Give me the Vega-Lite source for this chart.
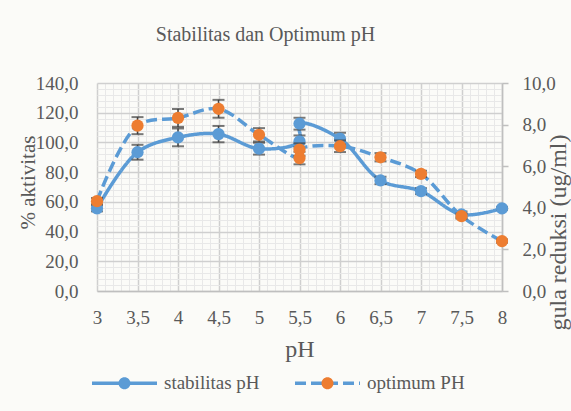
{
  "$schema": "https://vega.github.io/schema/vega-lite/v6.json",
  "width": 405,
  "height": 208,
  "autosize": {"type": "none"},
  "padding": {"left": 97, "top": 83, "right": 69, "bottom": 120},
  "background": "#fbfbf8",
  "title": {
    "text": "Stabilitas dan Optimum pH",
    "anchor": "middle",
    "dx": -34,
    "baseline": "alphabetic",
    "offset": 13
  },
  "datasets": {
    "stab": [
      {"ph": 3, "ord": 1, "series": "stabilitas pH", "value": 55.6, "err": 2},
      {"ph": 3.5, "ord": 2, "series": "stabilitas pH", "value": 93.4, "err": 5},
      {"ph": 4, "ord": 3, "series": "stabilitas pH", "value": 103.4, "err": 6},
      {"ph": 4.5, "ord": 4, "series": "stabilitas pH", "value": 105.6, "err": 5.5},
      {"ph": 5, "ord": 5, "series": "stabilitas pH", "value": 95.8, "err": 4},
      {"ph": 5.5, "ord": 6, "series": "stabilitas pH", "value": 100.7, "err": 4},
      {"ph": 5.5, "ord": 7, "series": "stabilitas pH", "value": 112.6, "err": 4},
      {"ph": 6, "ord": 8, "series": "stabilitas pH", "value": 102.5, "err": 4},
      {"ph": 6.5, "ord": 9, "series": "stabilitas pH", "value": 74.4, "err": 2.5},
      {"ph": 7, "ord": 10, "series": "stabilitas pH", "value": 67.2, "err": 2},
      {"ph": 7.5, "ord": 11, "series": "stabilitas pH", "value": 51.5, "err": 2},
      {"ph": 8, "ord": 12, "series": "stabilitas pH", "value": 55.6, "err": 1}
    ],
    "opt": [
      {"ph": 3, "ord": 1, "series": "optimum PH", "value": 4.32, "err": 0.15},
      {"ph": 3.5, "ord": 2, "series": "optimum PH", "value": 7.95, "err": 0.41},
      {"ph": 4, "ord": 3, "series": "optimum PH", "value": 8.32, "err": 0.43},
      {"ph": 4.5, "ord": 4, "series": "optimum PH", "value": 8.76, "err": 0.43},
      {"ph": 5, "ord": 5, "series": "optimum PH", "value": 7.51, "err": 0.32},
      {"ph": 5.5, "ord": 6, "series": "optimum PH", "value": 6.39, "err": 0.3},
      {"ph": 5.5, "ord": 7, "series": "optimum PH", "value": 6.8, "err": 0.3},
      {"ph": 6, "ord": 8, "series": "optimum PH", "value": 6.96, "err": 0.28},
      {"ph": 6.5, "ord": 9, "series": "optimum PH", "value": 6.43, "err": 0.2},
      {"ph": 7, "ord": 10, "series": "optimum PH", "value": 5.63, "err": 0.15},
      {"ph": 7.5, "ord": 11, "series": "optimum PH", "value": 3.6, "err": 0.12},
      {"ph": 8, "ord": 12, "series": "optimum PH", "value": 2.4, "err": 0.08}
    ]
  },
  "encoding": {
    "x": {
      "field": "ph",
      "type": "quantitative",
      "scale": {"domain": [3, 8], "nice": false, "zero": false},
      "axis": {
        "title": "pH",
        "titleFontSize": 24,
        "titlePadding": 10,
        "values": [3,3.1,3.2,3.3,3.4,3.5,3.6,3.7,3.8,3.9,4,4.1,4.2,4.3,4.4,4.5,4.6,4.7,4.8,4.9,5,5.1,5.2,5.3,5.4,5.5,5.6,5.7,5.8,5.9,6,6.1,6.2,6.3,6.4,6.5,6.6,6.7,6.8,6.9,7,7.1,7.2,7.3,7.4,7.5,7.6,7.7,7.8,7.9,8],
        "labelExpr": "abs(datum.value*2 - round(datum.value*2)) < 0.001 ? replace(toString(datum.value), '.', ',') : ''",
        "labelFontSize": 19,
        "labelPadding": 17,
        "labelOverlap": false,
        "labelFlush": false,
        "ticks": false,
        "domain": true,
        "domainColor": "#bfbfbf",
        "domainWidth": 1.5,
        "grid": true,
        "gridColor": {"condition": {"test": "abs(datum.value*2 - round(datum.value*2)) < 0.001", "value": "#cfcfcf"}, "value": "#e8e8e8"},
        "gridWidth": {"condition": {"test": "abs(datum.value*2 - round(datum.value*2)) < 0.001", "value": 1.5}, "value": 1}
      }
    }
  },
  "layer": [
    {
      "data": {"name": "stab"},
      "encoding": {
        "y": {
          "field": "value",
          "type": "quantitative",
          "scale": {"domain": [0, 140], "nice": false},
          "axis": {
            "orient": "left",
            "title": "% aktivitas",
            "titleFontSize": 21,
            "titleAngle": 270,
            "titleX": -69,
            "titleY": 99,
            "titleAlign": "center",
            "titleBaseline": "middle",
            "values": [0,4,8,12,16,20,24,28,32,36,40,44,48,52,56,60,64,68,72,76,80,84,88,92,96,100,104,108,112,116,120,124,128,132,136,140],
            "labelExpr": "datum.value % 20 === 0 ? replace(format(datum.value, '.1f'), '.', ',') : ''",
            "labelFontSize": 19,
            "labelPadding": 19,
            "labelOverlap": false,
            "labelFlush": false,
            "ticks": false,
            "domain": false,
            "grid": true,
            "gridColor": {"condition": {"test": "datum.value % 20 === 0", "value": "#cfcfcf"}, "value": "#e8e8e8"},
            "gridWidth": {"condition": {"test": "datum.value % 20 === 0", "value": 1.5}, "value": 1}
          }
        }
      },
      "layer": [
        {
          "mark": {"type": "line", "color": "#5b9bd5", "strokeWidth": 3.5, "interpolate": "catmull-rom"},
          "encoding": {
            "order": {"field": "ord", "type": "quantitative"},
            "strokeDash": {
              "field": "series",
              "type": "nominal",
              "scale": {"domain": ["stabilitas pH", "optimum PH"], "range": [[1, 0], [11, 5]]},
              "legend": {
                "orient": "none",
                "legendX": -7,
                "legendY": 265.5,
                "direction": "horizontal",
                "title": null,
                "symbolType": "M-1,0H1",
                "symbolSize": 4225,
                "symbolStrokeWidth": 3.5,
                "symbolStrokeColor": "#5b9bd5",
                "symbolFillColor": "transparent",
                "labelFontSize": 19,
                "labelOpacity": 0,
                "labelOffset": 5,
                "columnPadding": 28
              }
            }
          }
        },
        {
          "mark": {"type": "errorbar", "color": "#404040", "thickness": 1.5, "ticks": {"size": 12, "thickness": 2}},
          "encoding": {"yError": {"field": "err"}}
        },
        {
          "mark": {"type": "circle", "size": 150, "opacity": 1},
          "encoding": {
            "color": {
              "field": "series",
              "type": "nominal",
              "sort": ["stabilitas pH", "optimum PH"],
              "scale": {"range": ["#5b9bd5", "#ed7d31"]},
              "legend": {
                "orient": "none",
                "legendX": -7,
                "legendY": 265.5,
                "direction": "horizontal",
                "title": null,
                "symbolType": "M-1,0H1M0.185,0A0.185,0.185 0 1,1 -0.185,0A0.185,0.185 0 1,1 0.185,0Z",
                "symbolSize": 4225,
                "symbolStrokeWidth": 3.5,
                "symbolStrokeColor": "transparent",
                "labelFontSize": 19,
                "labelColor": "#595959",
                "labelOffset": 5,
                "columnPadding": 28,
                "encode": {"symbols": {"update": {"shape": {"value": "M-1,0H1M0.185,0A0.185,0.185 0 1,1 -0.185,0A0.185,0.185 0 1,1 0.185,0Z"}, "size": {"value": 4225}, "stroke": {"value": "transparent"}, "opacity": {"value": 1}}}}
              }
            }
          }
        }
      ]
    },
    {
      "data": {"name": "opt"},
      "encoding": {
        "y": {
          "field": "value",
          "type": "quantitative",
          "scale": {"domain": [0, 10], "nice": false},
          "axis": {
            "orient": "right",
            "title": "gula reduksi (ug/ml)",
            "titleFontSize": 24,
            "titleAngle": 270,
            "titleX": 56,
            "titleY": 149,
            "titleAlign": "center",
            "titleBaseline": "middle",
            "values": [0, 2, 4, 6, 8, 10],
            "labelExpr": "replace(format(datum.value, '.1f'), '.', ',')",
            "labelFontSize": 19,
            "labelPadding": 14,
            "labelFlush": false,
            "labelOverlap": false,
            "ticks": true,
            "tickSize": 6,
            "tickColor": "#bfbfbf",
            "tickWidth": 1.5,
            "domain": true,
            "domainColor": "#bfbfbf",
            "domainWidth": 1.5,
            "grid": false
          }
        }
      },
      "layer": [
        {
          "mark": {"type": "line", "color": "#5b9bd5", "strokeWidth": 3.5, "interpolate": "catmull-rom"},
          "encoding": {
            "order": {"field": "ord", "type": "quantitative"},
            "strokeDash": {"field": "series", "type": "nominal"}
          }
        },
        {
          "mark": {"type": "errorbar", "color": "#404040", "thickness": 1.5, "ticks": {"size": 12, "thickness": 2}},
          "encoding": {"yError": {"field": "err"}}
        },
        {
          "mark": {"type": "circle", "size": 150, "opacity": 1},
          "encoding": {
            "color": {"field": "series", "type": "nominal", "sort": ["stabilitas pH", "optimum PH"]}
          }
        }
      ]
    }
  ],
  "resolve": {"scale": {"y": "independent"}},
  "config": {
    "font": "Liberation Serif",
    "view": {"stroke": null},
    "title": {"fontSize": 20, "font": "Liberation Serif", "fontWeight": "normal", "color": "#595959"},
    "axis": {"labelColor": "#595959", "titleColor": "#595959", "titleFontWeight": "normal", "labelFont": "Liberation Serif", "titleFont": "Liberation Serif"},
    "legend": {"labelFont": "Liberation Serif"}
  }
}
